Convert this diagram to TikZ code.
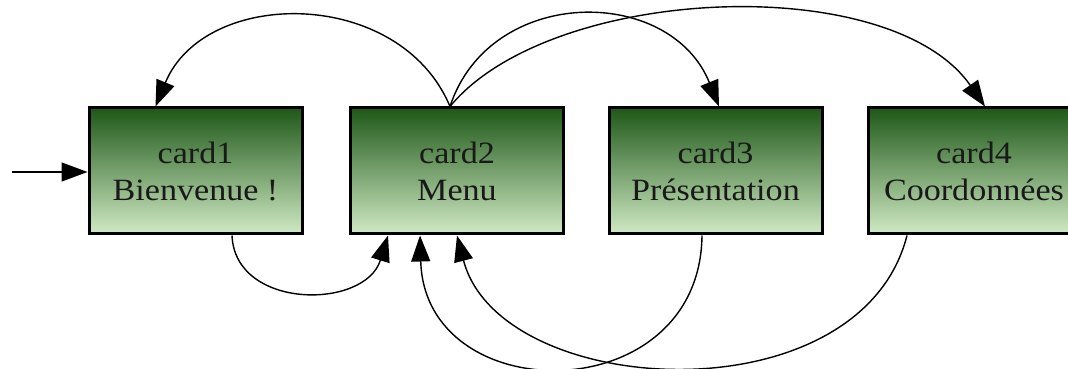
\documentclass[tikz,border=0pt]{standalone}
\usepackage{fontspec}
\setmainfont{Liberation Serif}[FakeStretch=1.1]
\usetikzlibrary{arrows.meta}
\definecolor{gtop}{RGB}{30,88,24}
\definecolor{gbot}{RGB}{208,234,196}
\tikzset{
  card/.style={draw=black, line width=3pt, top color=gtop, bottom color=gbot,
    minimum width=213pt, minimum height=126pt, inner sep=0pt, align=center,
    font=\fontsize{31}{37}\selectfont, text=black!90},
  edge/.style={line width=1.4pt, -{Triangle[length=26pt,width=19pt]}}
}
\begin{document}
\begin{tikzpicture}[x=1pt,y=1pt]
\useasboundingbox (0,0) rectangle (1068,369);
\clip (0,0) rectangle (1068,369);
\node[card] (card1) at (195.5,198) {card1\\Bienvenue !};
\node[card] (card2) at (457,198) {card2\\Menu};
\node[card] (card3) at (715.5,198) {card3\\Présentation};
\node[card, minimum width=211pt] (card4) at (974,198) {card4\\Coordonnées};
\coordinate (start) at (12,197);
\draw[edge] (start) -- (card1.west |- start);
\draw[edge] ([xshift=-7pt]card2.north) .. controls (400,382) and (205,382) .. ([xshift=-40pt]card1.north);
\draw[edge] ([xshift=-7pt]card2.north) .. controls (490,384) and (670,384) .. ([xshift=3.5pt]card3.north);
\draw[edge] ([xshift=-7pt]card2.north) .. controls (550,384) and (890,399) .. ([xshift=11pt]card4.north);
\draw[edge] ([xshift=36.5pt]card1.south) .. controls (235,59) and (365,59) .. ([xshift=-69pt]card2.south);
\draw[edge] ([xshift=-13.5pt]card3.south) .. controls (700,-42) and (425,-42) .. ([xshift=-37pt]card2.south);
\draw[edge] ([xshift=-67pt]card4.south) .. controls (860,-51) and (500,-31) .. (card2.south);
\end{tikzpicture}
\end{document}
